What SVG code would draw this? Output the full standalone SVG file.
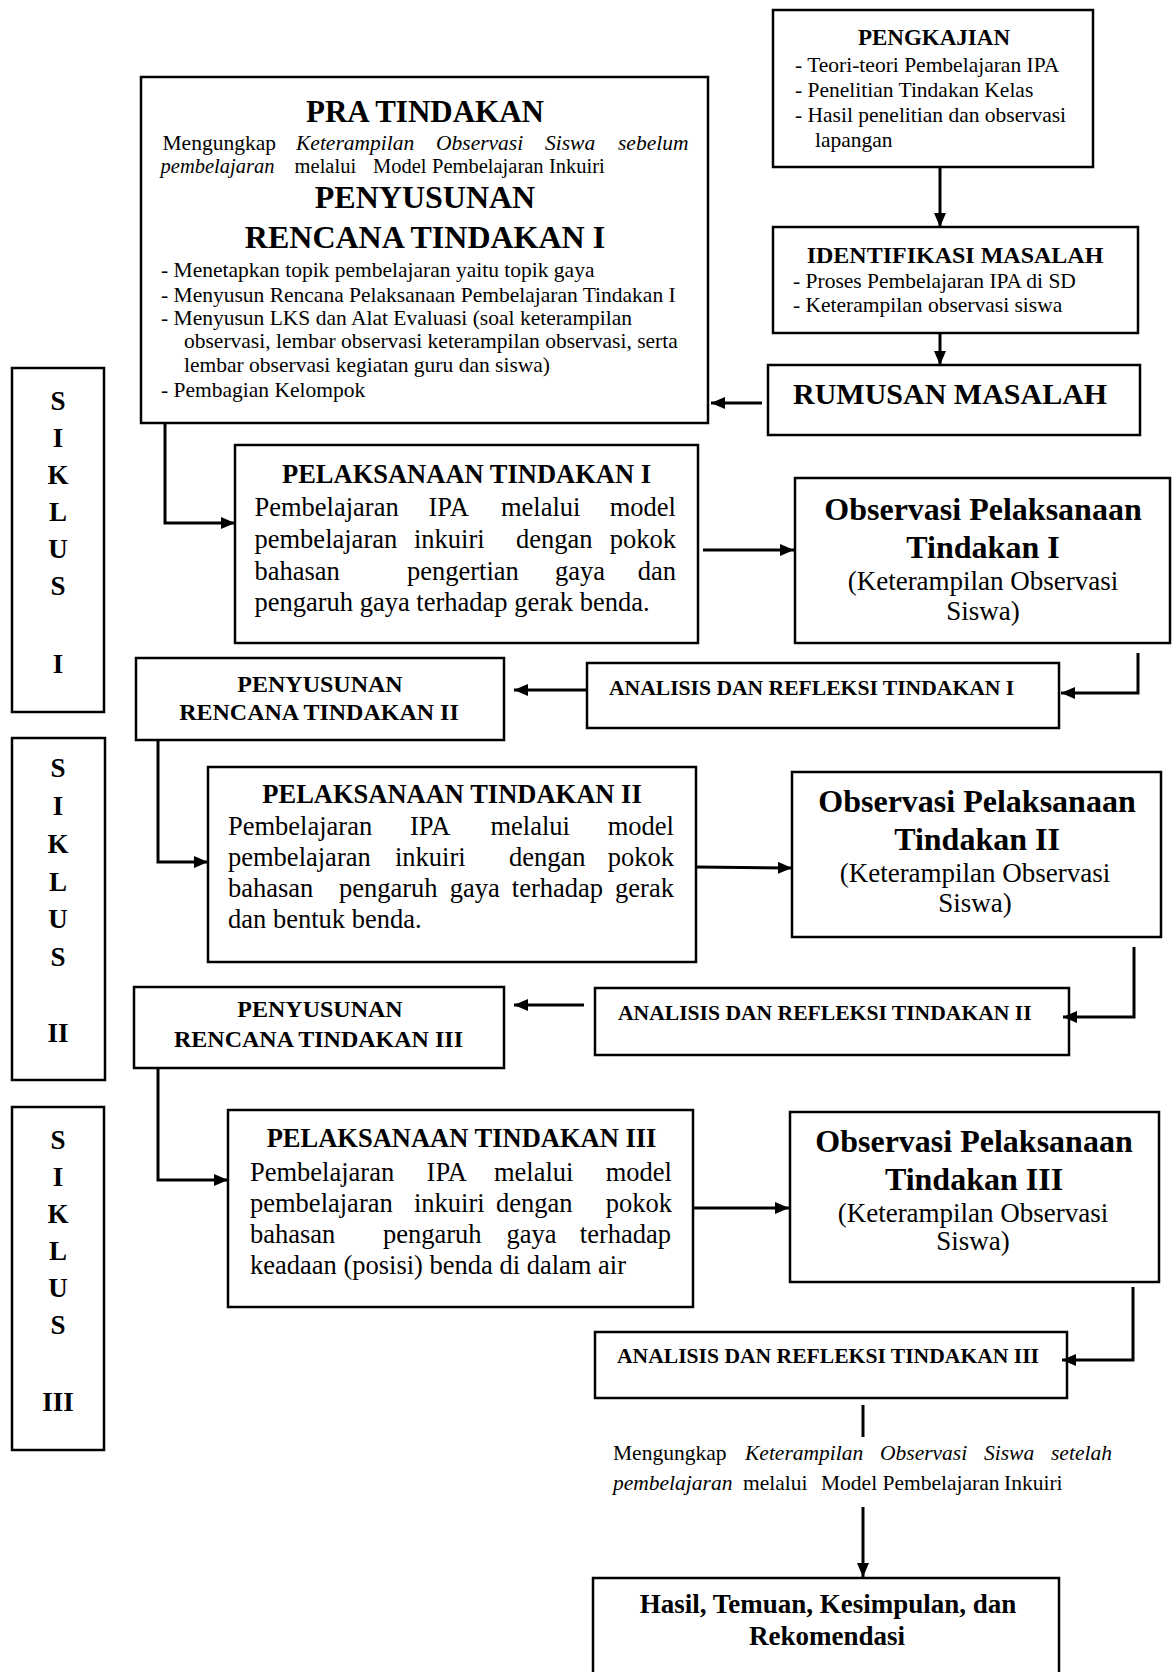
<svg xmlns="http://www.w3.org/2000/svg" width="1176" height="1672" viewBox="0 0 1176 1672">
<style>
.box{fill:#fff;stroke:#000;stroke-width:2.5}
text{font-family:"Liberation Serif","Times New Roman",serif;fill:#000}
.b{font-weight:bold}
.i{font-style:italic}
.c{text-anchor:middle}
.conn{fill:none;stroke:#000;stroke-width:3}
.s205{font-size:20.5px}
.s215{font-size:21.5px}
.s24{font-size:24px}
.s265{font-size:26.5px}
.s27{font-size:27px}
.s32{font-size:32px}
.sik{font-size:27px;font-weight:bold;text-anchor:middle}
</style>
<defs>
<marker id="ah" viewBox="0 0 14 12" refX="14" refY="6" markerWidth="14" markerHeight="12" markerUnits="userSpaceOnUse" orient="auto">
<path d="M0,0 L14,6 L0,12 z" fill="#000"/>
</marker>
</defs>
<rect width="1176" height="1672" fill="#fff"/>

<g id="pengkajian">
<rect class="box" x="773" y="10" width="320" height="157"/>
<text class="b c" x="934" y="45" font-size="23">PENGKAJIAN</text>
<text class="s215" x="795" y="72">- Teori-teori Pembelajaran IPA</text>
<text class="s215" x="795" y="97">- Penelitian Tindakan Kelas</text>
<text class="s215" x="795" y="122">- Hasil penelitian dan observasi</text>
<text class="s215" x="815" y="147">lapangan</text>
</g>

<g id="identifikasi">
<rect class="box" x="773" y="227" width="365" height="106"/>
<text class="b c s24" x="955" y="263">IDENTIFIKASI MASALAH</text>
<text class="s215" x="793" y="288">- Proses Pembelajaran IPA di SD</text>
<text class="s215" x="793" y="312">- Keterampilan observasi siswa</text>
</g>

<g id="rumusan">
<rect class="box" x="768" y="365" width="372" height="70"/>
<text class="b" x="793" y="404" font-size="30">RUMUSAN MASALAH</text>
</g>

<g id="pra-tindakan">
<rect class="box" x="141" y="77" width="567" height="346"/>
<text class="b c" x="425" y="122" font-size="31">PRA TINDAKAN</text>
<text class="s215" y="150"><tspan x="162.5">Mengungkap</tspan><tspan class="i" x="296">Keterampilan</tspan><tspan class="i" x="436">Observasi</tspan><tspan class="i" x="545">Siswa</tspan><tspan class="i" x="618">sebelum</tspan></text>
<text class="s205" y="173"><tspan class="i" x="160.6">pembelajaran</tspan><tspan x="294.6">melalui</tspan><tspan x="373">Model</tspan><tspan x="432">Pembelajaran</tspan><tspan x="549">Inkuiri</tspan></text>
<text class="b c s32" x="425" y="208">PENYUSUNAN</text>
<text class="b c s32" x="425" y="248">RENCANA TINDAKAN I</text>
<text class="s215" x="161" y="277">- Menetapkan topik pembelajaran yaitu topik gaya</text>
<text class="s215" x="161" y="302">- Menyusun Rencana Pelaksanaan Pembelajaran Tindakan I</text>
<text class="s215" x="161" y="325">- Menyusun LKS dan Alat Evaluasi (soal keterampilan</text>
<text class="s215" x="184" y="348">observasi, lembar observasi keterampilan observasi, serta</text>
<text class="s215" x="184" y="372">lembar observasi kegiatan guru dan siswa)</text>
<text class="s215" x="161" y="397">- Pembagian Kelompok</text>
</g>

<g id="siklus-1">
<rect class="box" x="12" y="368" width="92" height="344"/>
<text class="sik" x="58" y="410">S</text>
<text class="sik" x="58" y="447">I</text>
<text class="sik" x="58" y="484">K</text>
<text class="sik" x="58" y="521">L</text>
<text class="sik" x="58" y="558">U</text>
<text class="sik" x="58" y="595">S</text>
<text class="sik" x="58" y="673">I</text>
</g>

<g id="siklus-2">
<rect class="box" x="12" y="738" width="93" height="342"/>
<text class="sik" x="58" y="777">S</text>
<text class="sik" x="58" y="815">I</text>
<text class="sik" x="58" y="853">K</text>
<text class="sik" x="58" y="891">L</text>
<text class="sik" x="58" y="928">U</text>
<text class="sik" x="58" y="966">S</text>
<text class="sik" x="58" y="1042">II</text>
</g>

<g id="siklus-3">
<rect class="box" x="12" y="1107" width="92" height="343"/>
<text class="sik" x="58" y="1149">S</text>
<text class="sik" x="58" y="1186">I</text>
<text class="sik" x="58" y="1223">K</text>
<text class="sik" x="58" y="1260">L</text>
<text class="sik" x="58" y="1297">U</text>
<text class="sik" x="58" y="1334">S</text>
<text class="sik" x="58" y="1411">III</text>
</g>

<g id="pelaksanaan-1">
<rect class="box" x="235" y="445" width="463" height="198"/>
<text class="b c s265" x="466.5" y="483">PELAKSANAAN TINDAKAN I</text>
<text class="s265" y="516"><tspan x="254.5">Pembelajaran</tspan><tspan x="428.5">IPA</tspan><tspan x="501">melalui</tspan><tspan x="609.7">model</tspan></text>
<text class="s265" y="548"><tspan x="254.5">pembelajaran</tspan><tspan x="414">inkuiri</tspan><tspan x="516">dengan</tspan><tspan x="609.7">pokok</tspan></text>
<text class="s265" y="580"><tspan x="254.5">bahasan</tspan><tspan x="407">pengertian</tspan><tspan x="555">gaya</tspan><tspan x="637.7">dan</tspan></text>
<text class="s265" x="254.5" y="611">pengaruh gaya terhadap gerak benda.</text>
</g>

<g id="observasi-1">
<rect class="box" x="795" y="478" width="375" height="165"/>
<text class="b c s32" x="983" y="520">Observasi Pelaksanaan</text>
<text class="b c s32" x="983" y="558">Tindakan I</text>
<text class="c s27" x="983" y="590">(Keterampilan Observasi</text>
<text class="c s27" x="983" y="620">Siswa)</text>
</g>

<g id="analisis-1">
<rect class="box" x="587" y="663" width="472" height="65"/>
<text class="b" x="609" y="695" font-size="21.6">ANALISIS DAN REFLEKSI TINDAKAN I</text>
</g>

<g id="penyusunan-2">
<rect class="box" x="136" y="658" width="368" height="82"/>
<text class="b c s24" x="320" y="692">PENYUSUNAN</text>
<text class="b c s24" x="319" y="720">RENCANA TINDAKAN II</text>
</g>

<g id="pelaksanaan-2">
<rect class="box" x="208" y="767" width="488" height="195"/>
<text class="b c s265" x="452" y="803">PELAKSANAAN TINDAKAN II</text>
<text class="s265" y="835"><tspan x="228">Pembelajaran</tspan><tspan x="410">IPA</tspan><tspan x="490.4">melalui</tspan><tspan x="607.7">model</tspan></text>
<text class="s265" y="866"><tspan x="228">pembelajaran</tspan><tspan x="395">inkuiri</tspan><tspan x="509">dengan</tspan><tspan x="607.7">pokok</tspan></text>
<text class="s265" y="897"><tspan x="228">bahasan</tspan><tspan x="339">pengaruh</tspan><tspan x="449.7">gaya</tspan><tspan x="511.8">terhadap</tspan><tspan x="615.1">gerak</tspan></text>
<text class="s265" x="228" y="928">dan bentuk benda.</text>
</g>

<g id="observasi-2">
<rect class="box" x="792" y="772" width="369" height="165"/>
<text class="b c s32" x="977" y="812">Observasi Pelaksanaan</text>
<text class="b c s32" x="977" y="850">Tindakan II</text>
<text class="c s27" x="975" y="882">(Keterampilan Observasi</text>
<text class="c s27" x="975" y="912">Siswa)</text>
</g>

<g id="analisis-2">
<rect class="box" x="595" y="988" width="474" height="67"/>
<text class="b" x="618" y="1020" font-size="21.6">ANALISIS DAN REFLEKSI TINDAKAN II</text>
</g>

<g id="penyusunan-3">
<rect class="box" x="134" y="987" width="370" height="81"/>
<text class="b c s24" x="320" y="1017">PENYUSUNAN</text>
<text class="b c s24" x="318.5" y="1047">RENCANA TINDAKAN III</text>
</g>

<g id="pelaksanaan-3">
<rect class="box" x="228" y="1110" width="465" height="197"/>
<text class="b c s265" x="461.5" y="1147">PELAKSANAAN TINDAKAN III</text>
<text class="s265" y="1181"><tspan x="250">Pembelajaran</tspan><tspan x="426.6">IPA</tspan><tspan x="494">melalui</tspan><tspan x="605.7">model</tspan></text>
<text class="s265" y="1212"><tspan x="250">pembelajaran</tspan><tspan x="414">inkuiri</tspan><tspan x="496">dengan</tspan><tspan x="605.7">pokok</tspan></text>
<text class="s265" y="1243"><tspan x="250">bahasan</tspan><tspan x="383">pengaruh</tspan><tspan x="506.5">gaya</tspan><tspan x="579.8">terhadap</tspan></text>
<text class="s265" x="250" y="1274">keadaan (posisi) benda di dalam air</text>
</g>

<g id="observasi-3">
<rect class="box" x="790" y="1112" width="369" height="170"/>
<text class="b c s32" x="974" y="1152">Observasi Pelaksanaan</text>
<text class="b c s32" x="974" y="1190">Tindakan III</text>
<text class="c s27" x="973" y="1222">(Keterampilan Observasi</text>
<text class="c s27" x="973" y="1250">Siswa)</text>
</g>

<g id="analisis-3">
<rect class="box" x="595" y="1332" width="472" height="66"/>
<text class="b" x="617" y="1363" font-size="21.6">ANALISIS DAN REFLEKSI TINDAKAN III</text>
</g>

<g id="post-tindakan">
<text class="s215" y="1460"><tspan x="613">Mengungkap</tspan><tspan class="i" x="745">Keterampilan</tspan><tspan class="i" x="880">Observasi</tspan><tspan class="i" x="984">Siswa</tspan><tspan class="i" x="1051">setelah</tspan></text>
<text class="s215" y="1490"><tspan class="i" x="613">pembelajaran</tspan><tspan x="743">melalui</tspan><tspan x="821">Model Pembelajaran</tspan><tspan x="1004">Inkuiri</tspan></text>
</g>

<g id="hasil">
<rect class="box" x="593" y="1578" width="466" height="120"/>
<text class="b c s27" x="828" y="1613">Hasil, Temuan, Kesimpulan, dan</text>
<text class="b c s27" x="827" y="1645">Rekomendasi</text>
</g>

<g id="connectors">
<path class="conn" d="M940,167 L940,227" marker-end="url(#ah)"/>
<path class="conn" d="M940,333 L940,365" marker-end="url(#ah)"/>
<path class="conn" d="M762,403 L711,403" marker-end="url(#ah)"/>
<path class="conn" d="M165,423 L165,523 L235,523" marker-end="url(#ah)"/>
<path class="conn" d="M703,550 L794,550" marker-end="url(#ah)"/>
<path class="conn" d="M1138,653 L1138,693 L1061,693" marker-end="url(#ah)"/>
<path class="conn" d="M587,690 L514,690" marker-end="url(#ah)"/>
<path class="conn" d="M158,740 L158,862 L208,862" marker-end="url(#ah)"/>
<path class="conn" d="M696,867 L792,868" marker-end="url(#ah)"/>
<path class="conn" d="M1134,947 L1134,1017 L1063,1017" marker-end="url(#ah)"/>
<path class="conn" d="M584,1005 L514,1005" marker-end="url(#ah)"/>
<path class="conn" d="M158,1068 L158,1180 L228,1180" marker-end="url(#ah)"/>
<path class="conn" d="M694,1208 L789,1208" marker-end="url(#ah)"/>
<path class="conn" d="M1133,1287 L1133,1360 L1062,1360" marker-end="url(#ah)"/>
<path class="conn" d="M863,1405 L863,1437"/>
<path class="conn" d="M863,1507 L863,1577" marker-end="url(#ah)"/>
</g>
</svg>
